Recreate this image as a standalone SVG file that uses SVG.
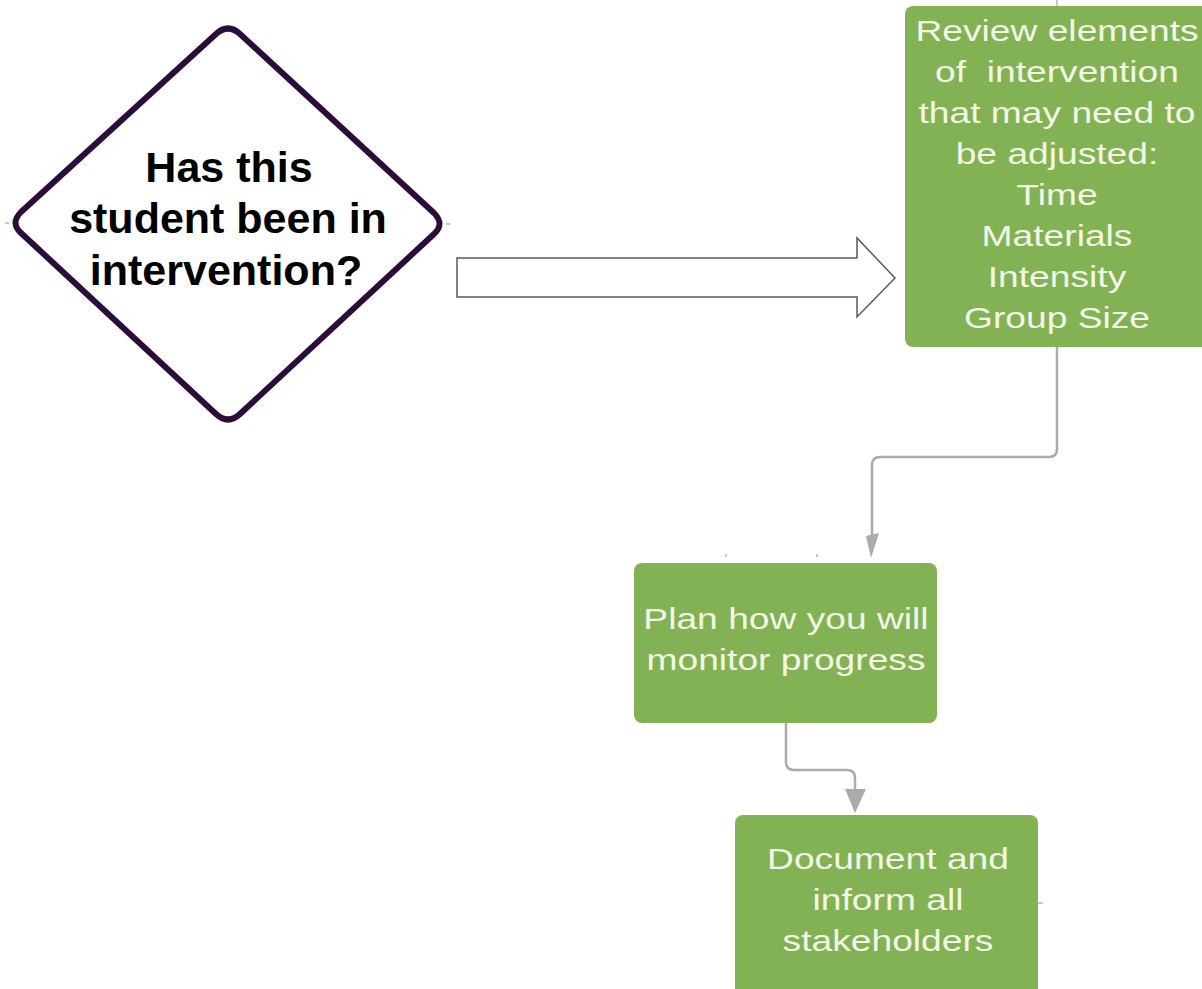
<svg xmlns="http://www.w3.org/2000/svg" width="1202" height="989" viewBox="0 0 1202 989">
<style>
.box{fill:#83b255;}
.gt{font-family:"Liberation Sans",Arial,sans-serif;font-size:30px;fill:#f2f7e6;text-anchor:middle;}
.dt{font-family:"Liberation Sans",Arial,sans-serif;font-size:43px;font-weight:bold;fill:#000;text-anchor:middle;}
.conn{fill:none;stroke:#ababab;stroke-width:2.5;stroke-linejoin:round;}
.tick{stroke:#b5b5b5;stroke-width:1.5;}
</style>
<rect width="1202" height="989" fill="#fff"/>
<g id="connectors">
  <line class="tick" x1="1057" y1="0" x2="1057" y2="6"/>
  <line class="tick" x1="726" y1="554" x2="726" y2="557"/>
  <line class="tick" x1="817" y1="554" x2="817" y2="557"/>
  <line class="tick" x1="1038" y1="903" x2="1043" y2="903"/>
  <path class="conn" d="M1057 347 V449 Q1057 457 1049 457 H880 Q872 457 872 465 V540"/>
  <polygon points="866,536 879,533 871,558" fill="#ababab"/>
  <path class="conn" d="M786 723 V762 Q786 770 794 770 H847 Q855 770 855 778 V792"/>
  <polygon points="845,789 866,789 855,813" fill="#ababab"/>
  <polygon id="block-arrow" points="457,258 857,258 857,238 895,278 857,317 857,297 457,297" fill="#fff" stroke="#5a5a5a" stroke-width="1.5"/>
</g>
<g id="decision">
  <path d="M216 34 Q228 23 240 34 L434 213 Q445 224 434 234 L240 414 Q228 425 216 414 L21 233 Q10 223 21 212 Z" fill="#fff" stroke="#2b0d3c" stroke-width="6" stroke-linejoin="round"/>
  <line class="tick" x1="5" y1="223" x2="9" y2="223"/>
  <line class="tick" x1="446" y1="224" x2="450" y2="224"/>
  <text class="dt" x="229" y="182">Has this</text>
  <text class="dt" x="228" y="233">student been in</text>
  <text class="dt" x="226" y="285">intervention?</text>
</g>
<g id="review">
  <rect class="box" x="905" y="6" width="305" height="341" rx="8"/>
  <g transform="translate(1057 0) scale(1.24 1)">
    <text class="gt" x="0" y="41">Review elements</text>
    <text class="gt" x="0" y="82" xml:space="preserve">of  intervention</text>
    <text class="gt" x="0" y="123">that may need to</text>
    <text class="gt" x="0" y="164">be adjusted:</text>
    <text class="gt" x="0" y="205">Time</text>
    <text class="gt" x="0" y="246">Materials</text>
    <text class="gt" x="0" y="287">Intensity</text>
    <text class="gt" x="0" y="328">Group Size</text>
  </g>
</g>
<g id="plan">
  <rect class="box" x="634" y="563" width="303" height="160" rx="8"/>
  <g transform="translate(786 0) scale(1.24 1)">
    <text class="gt" x="0" y="629">Plan how you will</text>
    <text class="gt" x="0" y="670">monitor progress</text>
  </g>
</g>
<g id="document">
  <rect class="box" x="735" y="815" width="303" height="184" rx="8"/>
  <g transform="translate(888 0) scale(1.24 1)">
    <text class="gt" x="0" y="869">Document and</text>
    <text class="gt" x="0" y="910">inform all</text>
    <text class="gt" x="0" y="951">stakeholders</text>
  </g>
</g>
</svg>
